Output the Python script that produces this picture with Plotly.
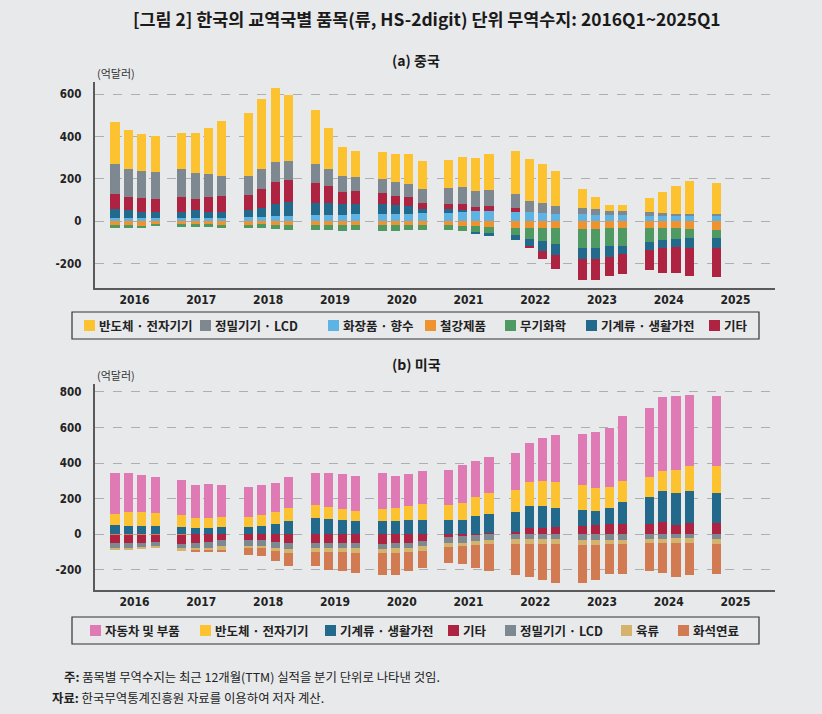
import plotly.graph_objects as go

# ---------------- data ----------------
years = [2016, 2017, 2018, 2019, 2020, 2021, 2022, 2023, 2024, 2025]
quarters = [f"{y}Q{q}" for y in years[:-1] for q in (1, 2, 3, 4)] + ["2025Q1"]
year_labels = [str(y) for y in years]

# (a) China, 억달러
cn_semi = [199, 185, 175, 170, 171, 191, 218, 257, 295, 332, 351, 312, 255, 194, 137, 123,
           128, 132, 142, 133, 133, 142, 156, 170, 205, 199, 185, 164, 88, 57, 30, 28,
           66, 98, 131, 156, 145]
cn_prec = [142, 131, 128, 126, 132, 123, 108, 98, 93, 95, 94, 92, 90, 80, 76, 66,
           66, 67, 61, 66, 72, 77, 74, 74, 65, 52, 47, 38, 30, 28, 17, 19,
           19, 14, 10, 10, 10]
cn_cosm = [15, 15, 14, 15, 17, 18, 17, 18, 19, 22, 24, 24, 28, 30, 30, 33,
           33, 34, 34, 38, 40, 43, 47, 49, 43, 43, 38, 35, 33, 30, 30, 30,
           25, 25, 25, 25, 25]
cn_steel = [-22, -22, -20, -16, -17, -17, -17, -18, -17, -13, -17, -19, -19, -19, -19, -19,
            -19, -19, -17, -17, -19, -20, -24, -28, -33, -33, -33, -33, -35, -35, -33, -33,
            -33, -33, -33, -38, -43]
cn_chem = [-9, -8, -10, -8, -9, -8, -9, -12, -14, -19, -19, -22, -22, -22, -25, -22,
           -25, -25, -22, -22, -22, -25, -27, -27, -33, -52, -62, -76, -93, -93, -85, -85,
           -66, -57, -52, -43, -38]
cn_mach = [42, 37, 30, 29, 27, 34, 27, 26, 35, 40, 56, 66, 57, 55, 50, 47,
           47, 42, 37, 19, 16, 11, -9, -14, -24, -32, -47, -52, -52, -52, -50, -38,
           -38, -38, -38, -47, -47]
cn_etc = [71, 63, 65, 62, 70, 52, 70, 74, 69, 89, 105, 104, 95, 81, 57, 62,
          53, 42, 43, 28, 28, 30, 21, 24, 20, -9, -38, -62, -95, -95, -92, -95,
          -95, -114, -123, -128, -133]

# (b) USA, 억달러
us_auto = [231, 218, 207, 205, 197, 186, 190, 178, 167, 167, 163, 175, 179, 192, 197, 197,
           203, 179, 178, 186, 198, 214, 203, 203, 208, 220, 242, 265, 287, 316, 332, 366,
           389, 417, 416, 400, 394]
us_semi = [62, 79, 77, 71, 66, 56, 56, 60, 60, 64, 68, 75, 73, 67, 62, 57,
           68, 75, 81, 90, 84, 96, 109, 118, 124, 135, 141, 145, 141, 129, 119, 119,
           113, 113, 130, 141, 152]
us_mach = [48, 44, 44, 44, 39, 34, 34, 38, 38, 45, 56, 73, 92, 85, 79, 73,
           73, 73, 79, 79, 79, 79, 101, 108, 115, 126, 124, 110, 90, 79, 90, 124,
           152, 174, 180, 180, 169]
us_etc = [-51, -51, -51, -47, -56, -53, -45, -34, -34, -36, -45, -51, -51, -51, -51, -51,
          -56, -51, -49, -39, -15, -11, -3, 5, 9, 32, 34, 38, 45, 51, 56, 56,
          56, 68, 51, 62, 62]
us_prec = [-28, -28, -26, -24, -20, -28, -32, -34, -32, -30, -32, -32, -26, -26, -26, -28,
           -28, -26, -28, -28, -34, -38, -34, -34, -28, -28, -28, -28, -32, -32, -34, -34,
           -28, -28, -23, -23, -28]
us_meat = [-10, -12, -8, -10, -17, -9, -13, -19, -13, -15, -17, -23, -24, -24, -24, -26,
           -21, -28, -26, -28, -23, -19, -23, -23, -28, -30, -28, -28, -30, -30, -23, -23,
           -23, -23, -28, -28, -28]
us_fuel = [3, 3, 3, 3, 2, -11, -11, -15, -38, -41, -58, -73, -77, -100, -107, -113,
           -124, -124, -107, -96, -90, -101, -130, -152, -175, -184, -203, -218, -212, -197, -169, -169,
           -158, -169, -192, -180, -169]

cn_ticks = [600, 400, 200, 0, -200]
cn_ticktext = ["600", "400", "200", "0", "-200"]
us_ticks = [800, 600, 400, 200, 0, -200]
us_ticktext = ["800", "600", "400", "200", "0", "-200"]

# ---------------- layout helpers ----------------
W, H = 822, 714
BG = "#e8e9eb"
KR = "Noto Sans CJK KR"
NUM = "DejaVu Sans Condensed"

def px_x(p):
    return p / W

def px_y(p):
    return 1 - p / H

# slot position: 5 slots per year (4 quarters + gap)
xpos = [(int(q[:4]) - 2016) * 5 + int(q[-1]) - 1 for q in quarters]
year_pos = [(y - 2016) * 5 + 1.5 for y in years]

fig = go.Figure()

C_SEMI, C_PREC, C_COSM = "#fdc22f", "#7d8890", "#5cb3e4"
C_STEEL, C_CHEM, C_MACH, C_ETC = "#ef9230", "#4f9a63", "#23698c", "#ae2242"
C_AUTO, C_MEAT, C_FUEL = "#e07ab5", "#d4b46c", "#d27b52"

cn_series = [  # stacking order
    ("화장품 · 향수", cn_cosm, C_COSM),
    ("철강제품", cn_steel, C_STEEL),
    ("무기화학", cn_chem, C_CHEM),
    ("기계류 · 생활가전", cn_mach, C_MACH),
    ("기타", cn_etc, C_ETC),
    ("정밀기기 · LCD", cn_prec, C_PREC),
    ("반도체 · 전자기기", cn_semi, C_SEMI),
]
for name, vals, col in cn_series:
    fig.add_trace(go.Bar(x=xpos, y=vals, name=name, marker=dict(color=col, line=dict(width=0)),
                         width=0.68, xaxis="x", yaxis="y", showlegend=False,
                         hovertext=quarters))

us_series = [
    ("기타", us_etc, C_ETC),
    ("정밀기기 · LCD", us_prec, C_PREC),
    ("육류", us_meat, C_MEAT),
    ("화석연료", us_fuel, C_FUEL),
    ("기계류 · 생활가전", us_mach, C_MACH),
    ("반도체 · 전자기기", us_semi, C_SEMI),
    ("자동차 및 부품", us_auto, C_AUTO),
]
for name, vals, col in us_series:
    fig.add_trace(go.Bar(x=xpos, y=vals, name=name, marker=dict(color=col, line=dict(width=0)),
                         width=0.68, xaxis="x2", yaxis="y2", showlegend=False,
                         hovertext=quarters))

xdom = [px_x(94.5), px_x(775)]
axis_common = dict(showline=True, linecolor="#5a5a5a", linewidth=1.5, zeroline=False)
xcommon = dict(axis_common, range=[-1.5, 49.45], tickvals=year_pos, ticktext=year_labels,
               showgrid=False, ticks="",
               tickfont=dict(family=NUM, size=12, color="#222", weight="bold"), domain=xdom)
ycommon = dict(axis_common, showgrid=True, gridcolor="#adafb1", griddash="dash", gridwidth=1,
               ticks="outside", ticklen=9, tickcolor="rgba(0,0,0,0)",
               tickfont=dict(family=NUM, size=11.5, color="#222", weight="bold"))

fig.update_layout(
    width=W, height=H, margin=dict(l=0, r=0, t=0, b=0),
    paper_bgcolor=BG, plot_bgcolor=BG,
    barmode="relative", bargap=0, showlegend=False,
    xaxis=dict(xcommon, anchor="y"),
    yaxis=dict(ycommon, domain=[px_y(288), px_y(82)], range=[-315, 658],
               tickvals=cn_ticks, ticktext=cn_ticktext, anchor="x"),
    xaxis2=dict(xcommon, anchor="y2"),
    yaxis2=dict(ycommon, domain=[px_y(590), px_y(384)], range=[-315, 845],
                tickvals=us_ticks, ticktext=us_ticktext, anchor="x2"),
)

# ---------------- legends (boxed rows, as in the reference) ----------------
legend_rows = [
    (325.5, 312, 339, [
        ("반도체 · 전자기기", C_SEMI, 84), ("정밀기기 · LCD", C_PREC, 200),
        ("화장품 · 향수", C_COSM, 328), ("철강제품", C_STEEL, 425),
        ("무기화학", C_CHEM, 505), ("기계류 · 생활가전", C_MACH, 586), ("기타", C_ETC, 709)]),
    (630.5, 617, 644, [
        ("자동차 및 부품", C_AUTO, 90), ("반도체 · 전자기기", C_SEMI, 200),
        ("기계류 · 생활가전", C_MACH, 325), ("기타", C_ETC, 448),
        ("정밀기기 · LCD", C_PREC, 505), ("육류", C_MEAT, 621), ("화석연료", C_FUEL, 678)]),
]
for cy, top, bot, items in legend_rows:
    fig.add_shape(type="rect", xref="paper", yref="paper", x0=px_x(72), x1=px_x(759),
                  y0=px_y(bot), y1=px_y(top), line=dict(color="#333", width=1.2),
                  fillcolor="rgba(0,0,0,0)")
    for label, col, sx in items:
        fig.add_shape(type="rect", xref="paper", yref="paper", x0=px_x(sx), x1=px_x(sx + 11),
                      y0=px_y(cy + 5.5), y1=px_y(cy - 5.5), line=dict(width=0), fillcolor=col)
        fig.add_annotation(xref="paper", yref="paper", x=px_x(sx + 13), y=px_y(cy),
                           xanchor="left", yanchor="middle", showarrow=False, text=label,
                           font=dict(family=KR, size=12.5, color="#222", weight="bold"))

ann = [
    dict(text="[그림 2] 한국의 교역국별 품목(류, HS-2digit) 단위 무역수지: 2016Q1~2025Q1",
         x=px_x(427), y=px_y(18), font=dict(family=KR, size=17.4, color="#1a1a1a", weight="bold")),
    dict(text="(a) 중국", x=px_x(416), y=px_y(60), font=dict(family=KR, size=14, color="#1a1a1a", weight="bold")),
    dict(text="(b) 미국", x=px_x(416), y=px_y(364), font=dict(family=KR, size=14, color="#1a1a1a", weight="bold")),
    dict(text="(억달러)", x=px_x(95), y=px_y(73), xanchor="left", font=dict(family=KR, size=11, color="#333")),
    dict(text="(억달러)", x=px_x(95), y=px_y(375), xanchor="left", font=dict(family=KR, size=11, color="#333")),
    dict(text="<b>주:</b> 품목별 무역수지는 최근 12개월(TTM) 실적을 분기 단위로 나타낸 것임.",
         x=px_x(62), y=px_y(677), xanchor="left", font=dict(family=KR, size=12.4, color="#222")),
    dict(text="<b>자료:</b> 한국무역통계진흥원 자료를 이용하여 저자 계산.",
         x=px_x(50), y=px_y(698), xanchor="left", font=dict(family=KR, size=12.4, color="#222")),
]
for a in ann:
    a.setdefault("xanchor", "center")
    fig.add_annotation(xref="paper", yref="paper", showarrow=False, yanchor="middle", **a)

fig.write_html("out.html", config={"displayModeBar": False, "responsive": False},
               post_script="document.body.style.margin='0';document.body.style.background='%s';" % BG)
